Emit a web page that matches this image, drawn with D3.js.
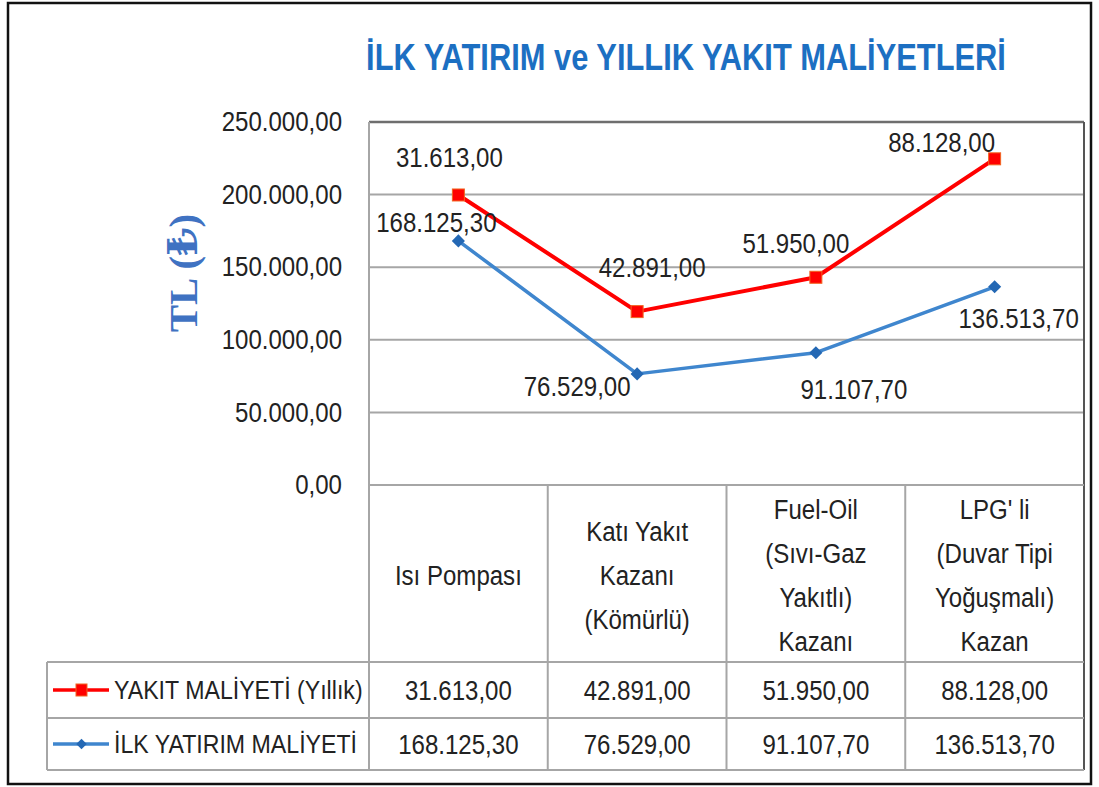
<!DOCTYPE html>
<html><head><meta charset="utf-8">
<script src="https://cdn.jsdelivr.net/npm/d3@7"></script>
<style>
html,body{margin:0;padding:0;background:#fff;}
svg text{font-family:"Liberation Sans","Arial",sans-serif;}
</style></head>
<body>
<svg id="chart" width="1099" height="787"></svg>
<script>
// ---- data ----
const categories = ["Isı Pompası", "Katı Yakıt Kazanı (Kömürlü)", "Fuel-Oil (Sıvı-Gaz Yakıtlı) Kazanı", "LPG' li (Duvar Tipi Yoğuşmalı) Kazan"];
const categoryLines = [["Isı Pompası"], ["Katı Yakıt", "Kazanı", "(Kömürlü)"], ["Fuel-Oil", "(Sıvı-Gaz", "Yakıtlı)", "Kazanı"], ["LPG' li", "(Duvar Tipi", "Yoğuşmalı)", "Kazan"]];
const ilkYatirim = [168125.30, 76529.00, 91107.70, 136513.70];
const yakitMaliyeti = [31613.00, 42891.00, 51950.00, 88128.00];
const seriesNames = ["YAKIT MALİYETİ (Yıllık)", "İLK YATIRIM MALİYETİ"];
const yTicks = [0, 50000, 100000, 150000, 200000, 250000];
const title = "İLK YATIRIM ve YILLIK YAKIT MALİYETLERİ";
const yTitle = "TL (₺)";

// label placement (layout only)
const yakitLabelOffsets = [[-9,-38],[15,-44],[-20,-34],[-53,-17]];
const ilkLabelOffsets = [[-22,-19],[-60,12],[38,37],[24,31]];

// ---- layout ----
const svg = d3.select("#chart");
const plot = {left:369, right:1084, top:122, bottom:485};
const tbl = {left:47, headBottom:662, row1:718, bottom:770};
const RED = "#FF0000", BLUE = "#3F86CE", BLUE_DARK = "#2468B4";
const GRID = "#A6A6A6";
const TXT = "#222";
const FS = 27, K = 0.89;

// horizontal condensing to mimic a narrow (Calibri-like) face
function condense(sel, k){
  sel.each(function(){
    const L = this.getComputedTextLength();
    this.setAttribute("textLength", (L*k).toFixed(1));
    this.setAttribute("lengthAdjust", "spacingAndGlyphs");
  });
  return sel;
}

const trLocale = d3.formatLocale({decimal:",", thousands:".", grouping:[3], currency:["","₺"]});
const fmt = trLocale.format(",.2f");

const x = d3.scaleBand().domain(categories).range([plot.left, plot.right]).padding(0);
const y = d3.scaleLinear().domain([0, 250000]).range([plot.bottom, plot.top]);
const cx = c => x(c) + x.bandwidth()/2;

// stacked data
const rows = categories.map((c,i)=>({cat:c, ilk:ilkYatirim[i], yakit:yakitMaliyeti[i]}));
const stacked = d3.stack().keys(["ilk","yakit"])(rows);

// outer border
svg.append("rect").attr("x",8).attr("y",3).attr("width",1083).attr("height",781)
  .attr("fill","#fff").attr("stroke","#111").attr("stroke-width",2.5);

// title (condensed by horizontal scale)
const tg0 = svg.append("g").attr("transform","translate(686,70)");
const tt = tg0.append("text").attr("x",0).attr("y",0).attr("text-anchor","middle")
  .attr("font-size",36).attr("font-weight","bold").attr("fill","#1C6FC2")
  .text(title);
const tw = tt.node().getComputedTextLength();
tg0.attr("transform",`translate(686,70) scale(${(640/tw).toFixed(4)},1)`);

// y title
svg.append("text").attr("transform","translate(197,273) rotate(-90)")
  .attr("text-anchor","middle").attr("font-size",41).attr("font-weight","bold")
  .style("font-family","'Liberation Serif','DejaVu Serif',serif")
  .attr("fill","#3F72C2").text(yTitle);

// gridlines
svg.append("g").selectAll("line").data(yTicks.filter(t=>t>0 && t<250000)).join("line")
  .attr("x1",plot.left).attr("x2",plot.right).attr("y1",d=>y(d)).attr("y2",d=>y(d))
  .attr("stroke",GRID).attr("stroke-width",2);

// plot frame
svg.append("line").attr("x1",plot.left).attr("x2",plot.right).attr("y1",plot.top).attr("y2",plot.top).attr("stroke","#6E6E6E").attr("stroke-width",2.5);
svg.append("line").attr("x1",plot.right).attr("x2",plot.right).attr("y1",plot.top).attr("y2",tbl.bottom).attr("stroke","#555").attr("stroke-width",2);
svg.append("line").attr("x1",plot.left).attr("x2",plot.left).attr("y1",plot.top).attr("y2",tbl.bottom).attr("stroke",GRID).attr("stroke-width",2);

// y axis labels
const yAxis = d3.axisLeft(y).tickValues(yTicks).tickFormat(fmt).tickSize(0).tickPadding(27);
const ya = svg.append("g").attr("transform",`translate(${plot.left},0)`).call(yAxis);
ya.select(".domain").remove();
ya.selectAll("text").attr("font-size",FS).attr("fill",TXT)
  .style("font-family","'Liberation Sans',Arial,sans-serif");
condense(ya.selectAll("text"), K);

// table
const tg = svg.append("g");
[plot.bottom].forEach(yy=>tg.append("line").attr("x1",plot.left).attr("x2",plot.right).attr("y1",yy).attr("y2",yy).attr("stroke",GRID).attr("stroke-width",2));
[tbl.headBottom, tbl.row1, tbl.bottom].forEach(yy=>tg.append("line").attr("x1",tbl.left).attr("x2",plot.right).attr("y1",yy).attr("y2",yy).attr("stroke",GRID).attr("stroke-width",2));
categories.slice(1).forEach(c=>tg.append("line").attr("x1",x(c)).attr("x2",x(c)).attr("y1",plot.bottom).attr("y2",tbl.bottom).attr("stroke",GRID).attr("stroke-width",2));
tg.append("line").attr("x1",tbl.left).attr("x2",tbl.left).attr("y1",tbl.headBottom).attr("y2",tbl.bottom).attr("stroke",GRID).attr("stroke-width",2);

// header text
const lineH = 44;
categoryLines.forEach((lines,i)=>{
  const mid = (plot.bottom + tbl.headBottom)/2 + 2;
  const start = mid - (lines.length-1)*lineH/2;
  lines.forEach((ln,j)=>{
    const t = tg.append("text").attr("text-anchor","middle").attr("font-size",FS).attr("fill",TXT)
      .attr("x",cx(categories[i])).attr("y",start + j*lineH).attr("dy","0.35em").text(ln);
    condense(t, K);
  });
});

// table values
const rowY = [(tbl.headBottom+tbl.row1)/2, (tbl.row1+tbl.bottom)/2];
[yakitMaliyeti, ilkYatirim].forEach((vals,r)=>{
  const s = tg.selectAll(null).data(vals).join("text")
    .attr("x",(d,i)=>cx(categories[i])).attr("y",rowY[r]).attr("dy","0.36em")
    .attr("text-anchor","middle").attr("font-size",FS).attr("fill",TXT).text(d=>fmt(d));
  condense(s, K);
});

// legend keys in table
const legColors = [RED, BLUE];
rowY.forEach((ry,r)=>{
  tg.append("line").attr("x1",53).attr("x2",109).attr("y1",ry).attr("y2",ry).attr("stroke",legColors[r]).attr("stroke-width",3.5);
  if(r===0){
    tg.append("rect").attr("x",76).attr("y",ry-6).attr("width",11).attr("height",12).attr("fill",RED).attr("stroke","#F26522").attr("stroke-width",1);
  } else {
    tg.append("path").attr("d",d3.symbol(d3.symbolDiamond2,70)()).attr("transform",`translate(81.5,${ry})`).attr("fill",BLUE_DARK);
  }
  const lt = tg.append("text").attr("x",114).attr("y",ry).attr("dy","0.36em").attr("font-size",FS-1).attr("fill",TXT).text(seriesNames[r]);
  condense(lt, K);
});

// lines
const ilkPts = stacked[0].map((d,i)=>[cx(categories[i]), y(d[1])]);
const yakitPts = stacked[1].map((d,i)=>[cx(categories[i]), y(d[1])]);
const lineGen = d3.line();
svg.append("path").attr("d",lineGen(ilkPts)).attr("fill","none").attr("stroke",BLUE).attr("stroke-width",3.5).attr("stroke-linejoin","round");
svg.append("path").attr("d",lineGen(yakitPts)).attr("fill","none").attr("stroke",RED).attr("stroke-width",4).attr("stroke-linejoin","round");

// markers
svg.append("g").selectAll("path").data(ilkPts).join("path")
  .attr("d",d3.symbol(d3.symbolDiamond2,110)()).attr("transform",d=>`translate(${d[0]},${d[1]})`).attr("fill",BLUE_DARK);
svg.append("g").selectAll("rect").data(yakitPts).join("rect")
  .attr("x",d=>d[0]-6).attr("y",d=>d[1]-6).attr("width",12).attr("height",12)
  .attr("fill",RED).attr("stroke","#F26522").attr("stroke-width",1);

// data labels
const l1 = svg.append("g").selectAll("text").data(yakitMaliyeti).join("text")
  .attr("x",(d,i)=>yakitPts[i][0]+yakitLabelOffsets[i][0]).attr("y",(d,i)=>yakitPts[i][1]+yakitLabelOffsets[i][1])
  .attr("dy","0.36em").attr("text-anchor","middle").attr("font-size",FS).attr("fill",TXT).text(d=>fmt(d));
condense(l1, K);
const l2 = svg.append("g").selectAll("text").data(ilkYatirim).join("text")
  .attr("x",(d,i)=>ilkPts[i][0]+ilkLabelOffsets[i][0]).attr("y",(d,i)=>ilkPts[i][1]+ilkLabelOffsets[i][1])
  .attr("dy","0.36em").attr("text-anchor","middle").attr("font-size",FS).attr("fill",TXT).text(d=>fmt(d));
condense(l2, K);
</script>
</body></html>
